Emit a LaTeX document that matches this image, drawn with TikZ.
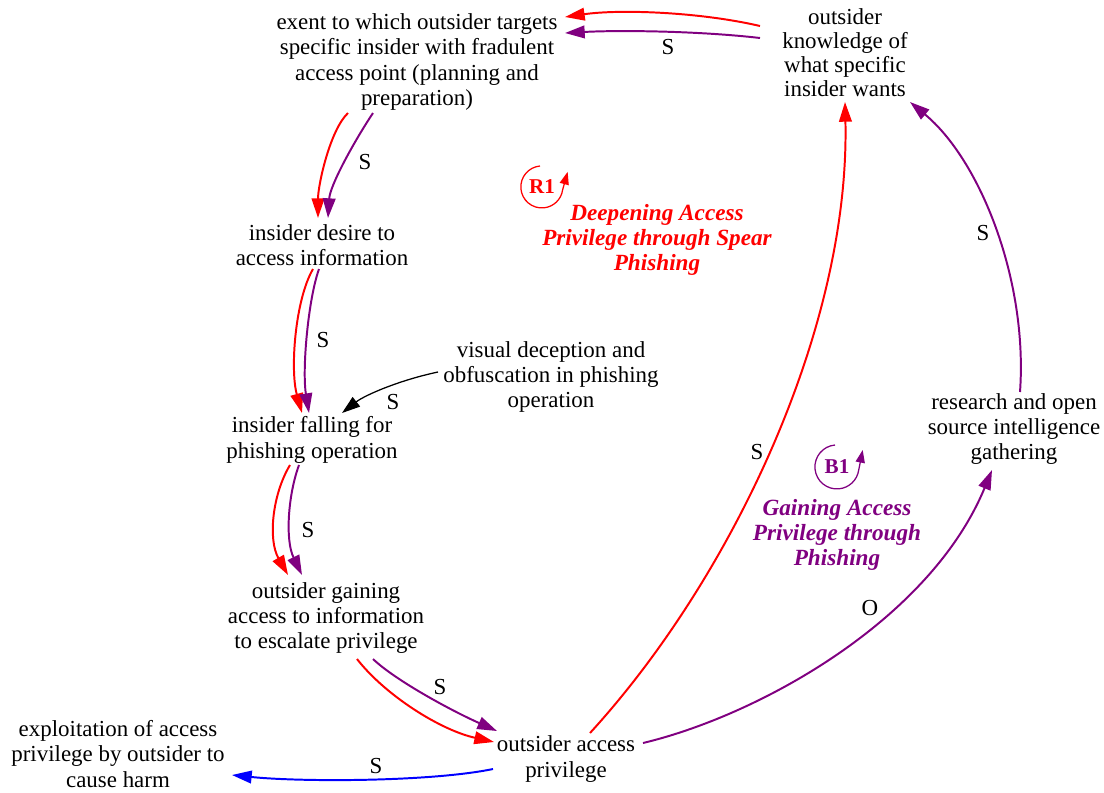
\documentclass[tikz,border=0pt]{standalone}
\usepackage{fontspec}
\setmainfont{Liberation Serif}
\newfontfamily\diagramfont{Liberation Serif}
\usetikzlibrary{arrows.meta,calc}
\definecolor{linkred}{RGB}{255,0,0}
\definecolor{linkpurple}{RGB}{128,0,128}
\definecolor{linkblue}{RGB}{0,0,255}
\begin{document}
\begin{tikzpicture}[x=0.025cm,y=-0.025cm,
  var/.style={align=center,inner sep=0pt,font=\diagramfont\fontsize{16.3}{18}\selectfont},
  tight/.style={align=center,inner sep=0pt,font=\diagramfont\fontsize{16.3}{17}\selectfont},
  lbl/.style={inner sep=0pt,font=\diagramfont\fontsize{16.3}{18}\selectfont},
  looptitle/.style={align=center,inner sep=0pt,font=\diagramfont\fontsize{16.5}{18}\selectfont\bfseries\itshape},
  loopname/.style={inner sep=0pt,font=\diagramfont\fontsize{15}{18}\selectfont\bfseries},
  link/.style={line width=1.4pt,-{Triangle[length=14pt,width=9pt]}},
  thinlink/.style={line width=0.9pt,-{Triangle[length=13pt,width=8.5pt]}},
  loopmark/.style={line width=0.9pt,-{Triangle[length=9pt,width=6.5pt]}}
]
\useasboundingbox (0,0) rectangle (1104,792);

% variables
\node[var] (T) at (417,62) {exent to which outsider targets\\specific insider with fradulent\\access point (planning and\\preparation)};
\node[tight] (K) at (845,53) {outsider\\knowledge of\\what specific\\insider wants};
\node[var] (D) at (322,245) {insider desire to\\access information};
\node[var] (F) at (312,440) {insider falling for\\phishing operation};
\node[var] (V) at (551,377) {visual deception and\\obfuscation in phishing\\operation};
\node[var] (G) at (326,618) {outsider gaining\\access to information\\to escalate privilege};
\node[var] (A) at (566,759) {outsider access\\privilege};
\node[var] (E) at (118,754) {exploitation of access\\privilege by outsider to\\cause harm};
\node[var] (R) at (1014,429) {research and open\\source intelligence\\gathering};

% loop markers and titles
\node[loopname,text=linkred] (R1) at (542,187) {R1};
\draw[loopmark,linkred] ($(R1)+(-2,-21)$) arc[start angle=265,end angle=8,radius=21] -- ++(5,-18);
\node[looptitle,text=linkred] (R1t) at (657,240) {Deepening Access\\Privilege through Spear\\Phishing};

\node[loopname,text=linkpurple] (B1) at (837,467) {B1};
\draw[loopmark,linkpurple] ($(B1)+(-2,-22)$) arc[start angle=265,end angle=8,radius=22] -- ++(4,-20);
\node[looptitle,text=linkpurple] (B1t) at (837,535) {Gaining Access\\Privilege through\\Phishing};

% reinforcing loop R1 (red)
\draw[link,linkred] ($(K)+(-85,-27)$) .. controls (700,12) and (620,9) .. ($(T)+(148,-45)$);
\draw[link,linkred] ($(T)+(-69,51)$) .. controls (330,130) and (318,185) .. ($(D)+(-4,-27)$);
\draw[link,linkred] ($(D)+(-9,24)$) .. controls (295,300) and (290,370) .. ($(F)+(-10,-27)$);
\draw[link,linkred] ($(F)+(-22,25)$) .. controls (272,495) and (268,540) .. ($(G)+(-38,-43)$);
\draw[link,linkred] ($(G)+(31,41)$) .. controls (385,695) and (440,730) .. ($(A)+(-72,-17)$);
\draw[link,linkred] ($(A)+(24,-26)$) .. controls (730,580) and (850,330) .. ($(K)+(0,49)$);

% balancing loop B1 (purple)
\draw[link,linkpurple] ($(K)+(-85,-15)$) .. controls (700,31) and (620,30) .. ($(T)+(148,-29)$);
\draw[link,linkpurple] ($(T)+(-44,51)$) .. controls (355,140) and (330,185) .. ($(D)+(6,-27)$);
\draw[link,linkpurple] ($(D)+(-3,24)$) .. controls (308,300) and (302,370) .. ($(F)+(-3,-27)$);
\draw[link,linkpurple] ($(F)+(-13,25)$) .. controls (288,495) and (285,540) .. ($(G)+(-24,-43)$);
\draw[link,linkpurple] ($(G)+(47,41)$) .. controls (395,680) and (450,710) .. ($(A)+(-69,-28)$);
\draw[link,linkpurple] ($(A)+(77,-16)$) .. controls (760,715) and (930,620) .. ($(R)+(-22,41)$);
\draw[link,linkpurple] ($(R)+(6,-37)$) .. controls (1028,280) and (980,160) .. ($(K)+(65,49)$);

% other links
\draw[thinlink,black] ($(V)+(-113,-5)$) .. controls (400,380) and (365,395) .. ($(F)+(30,-27)$);
\draw[link,linkblue] ($(A)+(-73,10)$) .. controls (430,782) and (300,782) .. ($(E)+(114,21)$);

% polarity labels
\node[lbl] (sKT) at (668,47) {S};
\node[lbl] (sTD) at (365,162) {S};
\node[lbl] (sDF) at (323,340) {S};
\node[lbl] (sVF) at (393,402) {S};
\node[lbl] (sFG) at (308,530) {S};
\node[lbl] (sGA) at (440,687) {S};
\node[lbl] (sAE) at (376,766) {S};
\node[lbl] (sAK) at (757,452) {S};
\node[lbl] (oAR) at (870,608) {O};
\node[lbl] (sRK) at (983,233) {S};
\end{tikzpicture}
\end{document}
